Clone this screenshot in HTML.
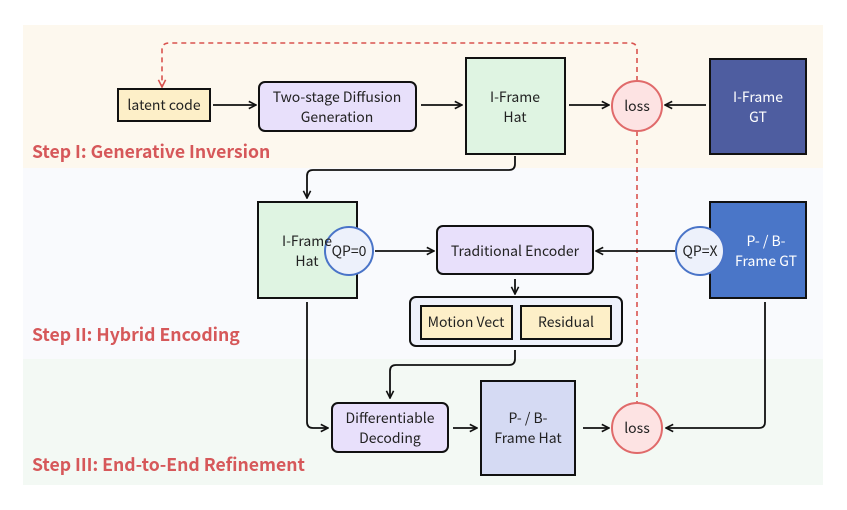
<!DOCTYPE html>
<html><head><meta charset="utf-8"><style>
html,body{margin:0;padding:0;background:#fff;}
svg{display:block;font-family:"Noto Sans CJK SC","Liberation Sans",sans-serif;}
</style></head><body>
<svg width="847" height="510" viewBox="0 0 847 510" xmlns="http://www.w3.org/2000/svg">
<defs>
<marker id="a" viewBox="0 0 10 10" refX="9" refY="5" markerWidth="9" markerHeight="9" orient="auto" markerUnits="userSpaceOnUse"><path d="M1,1 L9,5 L1,9" fill="none" stroke="#111" stroke-width="1.8"/></marker>
<marker id="r" viewBox="0 0 10 10" refX="9" refY="5" markerWidth="9" markerHeight="9" orient="auto" markerUnits="userSpaceOnUse"><path d="M1,1 L9,5 L1,9" fill="none" stroke="#d9534f" stroke-width="1.8"/></marker>
</defs>
<rect x="23" y="25" width="800" height="143" fill="#fdf8ee"/>
<rect x="23" y="168" width="800" height="191" fill="#f9fafd"/>
<rect x="23" y="359" width="800" height="126" fill="#f3f9f4"/>

<g font-weight="bold" font-size="17.6" fill="#d6585a">
<text x="32" y="158">Step I: Generative Inversion</text>
<text x="32" y="341">Step II: Hybrid Encoding</text>
<text x="32" y="471">Step III: End-to-End Refinement</text>
</g>

<path d="M637,81 V50 Q637,43 630,43 H169 Q162,43 162,50 V87" fill="none" stroke="#d9534f" stroke-width="1.6" stroke-dasharray="5,4" marker-end="url(#r)"/>
<path d="M637,131 V403" fill="none" stroke="#d9534f" stroke-width="1.6" stroke-dasharray="5,4"/>

<g fill="none" stroke="#111" stroke-width="1.8">
<path d="M213,105 H256" marker-end="url(#a)"/>
<path d="M421,105 H462" marker-end="url(#a)"/>
<path d="M569,105 H609" marker-end="url(#a)"/>
<path d="M706,105 H665" marker-end="url(#a)"/>
<path d="M515,156 V164 Q515,170 509,170 H313 Q307,170 307,176 V198" marker-end="url(#a)"/>
<path d="M375,251 H434" marker-end="url(#a)"/>
<path d="M678,251 H596" marker-end="url(#a)"/>
<path d="M515,279 V294" marker-end="url(#a)"/>
<path d="M515,350 V359 Q515,365 509,365 H396 Q390,365 390,371 V398" marker-end="url(#a)"/>
<path d="M307,302 V422 Q307,428 313,428 H328" marker-end="url(#a)"/>
<path d="M453,428 H477" marker-end="url(#a)"/>
<path d="M583,428 H609" marker-end="url(#a)"/>
<path d="M765,302 V422 Q765,428 759,428 H666" marker-end="url(#a)"/>
</g>

<g stroke="#111" stroke-width="2">
<rect x="118" y="89" width="92" height="32" fill="#fdefc8"/>
<rect x="259" y="82" width="157" height="49" rx="6" fill="#e8e0fb"/>
<rect x="466" y="58" width="99" height="96" fill="#dff4e2"/>
<rect x="710" y="59" width="96" height="95" fill="#4e5da0"/>
<rect x="258" y="202" width="99" height="96" fill="#dff4e2"/>
<rect x="437" y="226" width="156" height="48" rx="6" fill="#e8e0fb"/>
<rect x="710" y="202" width="96" height="96" fill="#4a76c8"/>
<rect x="410" y="297" width="212" height="49" rx="6" fill="#eef1fb"/>
<rect x="421" y="306" width="91" height="33" fill="#fdefc8"/>
<rect x="521" y="306" width="90" height="33" fill="#fdefc8"/>
<rect x="332" y="403" width="116" height="49" rx="6" fill="#e8e0fb"/>
<rect x="481" y="381" width="94" height="94" fill="#d5daf3"/>
</g>
<g stroke-width="2">
<circle cx="637" cy="106" r="25" fill="#fde3e3" stroke="#e06a6a"/>
<circle cx="637" cy="428" r="25" fill="#fde3e3" stroke="#e06a6a"/>
<circle cx="349" cy="251" r="24" fill="#edf1fb" stroke="#4a74c8"/>
<circle cx="700" cy="251" r="24" fill="#edf1fb" stroke="#4a74c8"/>
</g>

<g font-size="14" fill="#222" text-anchor="middle">
<text x="164" y="110">latent code</text>
<text x="337" y="102">Two-stage Diffusion</text>
<text x="337" y="122">Generation</text>
<text x="515" y="102">I-Frame</text>
<text x="515" y="122">Hat</text>
<text x="637" y="111">loss</text>
<text x="758" y="102" fill="#fff">I-Frame</text>
<text x="758" y="122" fill="#fff">GT</text>
<text x="307" y="246">I-Frame</text>
<text x="307" y="266">Hat</text>
<text x="349" y="256">QP=0</text>
<text x="515" y="256">Traditional Encoder</text>
<text x="700" y="256">QP=X</text>
<text x="766" y="246" fill="#fff">P- / B-</text>
<text x="766" y="266" fill="#fff">Frame GT</text>
<text x="466" y="327">Motion Vect</text>
<text x="566" y="327">Residual</text>
<text x="390" y="423">Differentiable</text>
<text x="390" y="443">Decoding</text>
<text x="528" y="423">P- / B-</text>
<text x="528" y="443">Frame Hat</text>
<text x="637" y="433">loss</text>
</g>
</svg>
</body></html>
